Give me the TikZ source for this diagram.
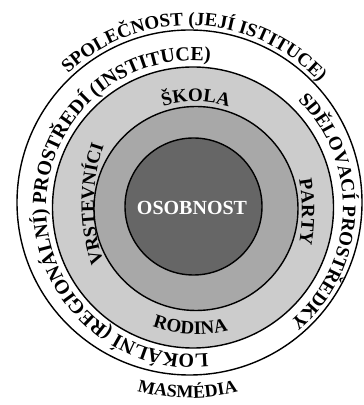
\documentclass[tikz,border=0pt]{standalone}
\usepackage{fontspec}
\setmainfont{Liberation Serif}
\usetikzlibrary{decorations.text}
\newcommand\ringfont{\bfseries\fontsize{19}{22}\selectfont}
\newcommand\masfont{\bfseries\fontsize{18}{21}\selectfont}
\newcommand\widefont{\bfseries\fontsize{20}{23}\selectfont}
\definecolor{lightring}{gray}{0.80}
\definecolor{midring}{gray}{0.66}
\definecolor{darkcore}{gray}{0.40}
\begin{document}
\begin{tikzpicture}[x=1pt,y=1pt,
  ring/.style={draw=black,line width=1.4pt},
  curved/.style={decorate,decoration={text along path,text align=center,text={|\ringfont|#1}}},
  widecurved/.style={decorate,decoration={text along path,text align=center,text={|\widefont|#1}}}]
\useasboundingbox (0,0) rectangle (364,405);
\fill[white] (0,0) rectangle (364,405);
\coordinate (O) at (189.5,202.5);
\coordinate (L) at (193,197.5);
\coordinate (M) at (196,196.5);
\coordinate (D) at (193.5,198.5);
% circles
\draw[ring,fill=white] (O) circle[radius=172.5];
\draw[ring,fill=lightring] (L) circle[radius=140.5];
\draw[ring,fill=midring] (M) circle[radius=102];
\draw[ring,fill=darkcore] (D) circle[radius=68.5];
\node[text=white,font=\bfseries\fontsize{20}{24}\selectfont] (core) at (192,197) {OSOBNOST};
% outer texts
\path[curved={SPOLEČNOST (JEJÍ ISTITUCE)},shift={(O)}] (148:177) arc[start angle=148,end angle=28,radius=177];
\path[decorate,decoration={text along path,text align=center,text={|\masfont|MASMÉDIA}},shift={(O)}] (244.4:195.5) arc[start angle=244.4,end angle=294.4,radius=195.5];
% white ring texts
\path[widecurved={LOKÁLNÍ (REGIONÁLNÍ) PROSTŘEDÍ (INSTITUCE)},shift={(L)}] (284.5:147) arc[start angle=284.5,end angle=74.5,radius=147];
\path[curved={SDĚLOVACÍ PROSTŘEDKY},shift={(L)}] (58:150) arc[start angle=58,end angle=-62,radius=150];
% grey ring texts
\path[curved={ŠKOLA},shift={(M)}] (120:107) arc[start angle=120,end angle=60,radius=107];
\path[curved={RODINA},shift={(M)}] (237.3:126) arc[start angle=237.3,end angle=297.3,radius=126];
\path[curved={PARTY},shift={(122,193)}] (15:180) arc[start angle=15,end angle=-15,radius=180];
\path[curved={VRSTEVNÍCI},shift={(274,201)}] (205:180) arc[start angle=205,end angle=155,radius=180];
\end{tikzpicture}
\end{document}
